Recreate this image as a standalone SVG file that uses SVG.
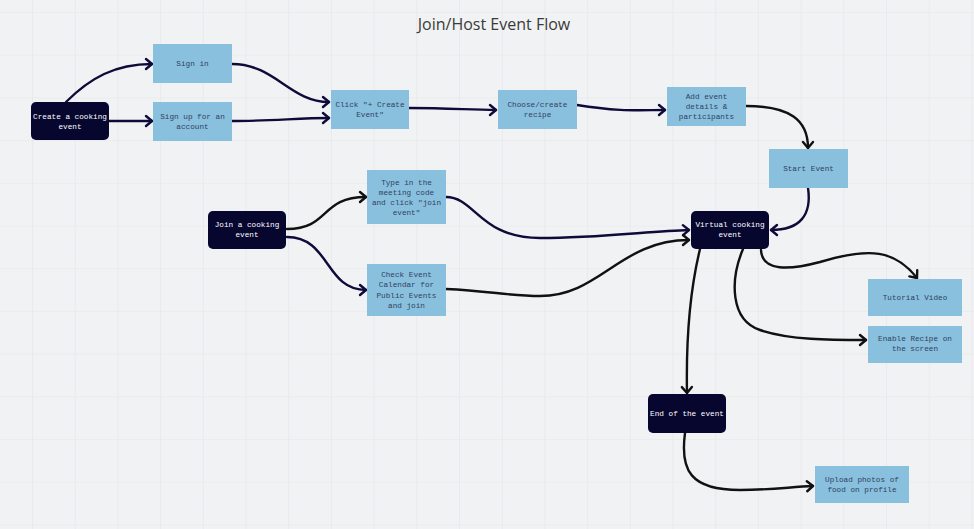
<svg xmlns="http://www.w3.org/2000/svg" width="974" height="529" viewBox="0 0 974 529">
<defs>
<pattern id="grid" x="32" y="12" width="42.7" height="42.7" patternUnits="userSpaceOnUse">
<path d="M0,0 V42.7 M0,0 H42.7" fill="none" stroke="#e3e5e8" stroke-width="1.2"/>
</pattern>
<marker id="an" markerUnits="userSpaceOnUse" markerWidth="12" markerHeight="14" refX="8" refY="6" orient="auto" viewBox="0 0 12 12">
<path d="M2,1 L8,6 L2,11" fill="none" stroke="#0e0b3a" stroke-width="2.4" stroke-linecap="round" stroke-linejoin="round"/>
</marker>
<marker id="ak" markerUnits="userSpaceOnUse" markerWidth="12" markerHeight="14" refX="8" refY="6" orient="auto" viewBox="0 0 12 12">
<path d="M2,1 L8,6 L2,11" fill="none" stroke="#111111" stroke-width="2.4" stroke-linecap="round" stroke-linejoin="round"/>
</marker>
</defs>
<style>
.dark{fill:#07062f;}
.light{fill:#88c0de;}
.tw{font-family:"Liberation Mono","DejaVu Sans Mono",monospace;font-size:7.7px;fill:#ffffff;text-anchor:middle;}
.tb{font-family:"Liberation Mono","DejaVu Sans Mono",monospace;font-size:7.7px;fill:#33415f;text-anchor:middle;}
.cn{fill:none;stroke:#0e0b3a;stroke-width:2.4;stroke-linecap:round;marker-end:url(#an);}
.ck{fill:none;stroke:#111111;stroke-width:2.4;stroke-linecap:round;marker-end:url(#ak);}
.title{font-family:"Open Sans","Noto Sans",sans-serif;font-size:16px;fill:#3a3a3a;text-anchor:middle;}
</style>
<rect width="974" height="529" fill="#f1f2f4"/>
<rect width="974" height="529" fill="url(#grid)"/>
<text class="title" x="494" y="30">Join/Host Event Flow</text>

<g id="connectors">
<path class="cn" d="M66,102 C90,78 115,64 152,64"/>
<path class="cn" d="M109,121 L152,121"/>
<path class="cn" d="M232,64 C275,64 290,102 329,102"/>
<path class="cn" d="M232,121 C270,121 300,118 329,118"/>
<path class="cn" d="M409,108 C450,108 470,110 496,110"/>
<path class="cn" d="M577,105 C620,112 640,110 665,110"/>
<path class="ck" d="M746,106 C790,106 808,120 808,148"/>
<path class="cn" d="M808,188 C812,215 800,230 771,230"/>
<path class="ck" d="M287,229 C330,229 320,197 366,197"/>
<path class="cn" d="M287,237 C330,237 325,290 366,290"/>
<path class="cn" d="M446,197 C475,197 480,238 540,238 C600,238 650,231 689,230"/>
<path class="ck" d="M446,289 C490,291 510,296 540,296 C600,296 620,240 689,240"/>
<path class="ck" d="M761,250 C762,272 790,270 820,262 C870,247 895,250 917,278"/>
<path class="ck" d="M743,249 C730,280 730,320 760,330 C790,340 830,340 866,340"/>
<path class="ck" d="M700,249 C690,290 686,340 687,393"/>
<path class="ck" d="M685,433 C680,470 690,490 740,490 C770,490 790,487 813,486"/>
</g>

<g id="create">
<rect class="dark" x="31" y="102" width="78" height="38" rx="5"/>
<text class="tw" x="70" y="118.7">Create a cooking</text>
<text class="tw" x="70" y="128.7">event</text>
</g>
<g id="signin">
<rect class="light" x="153" y="44" width="79" height="39"/>
<text class="tb" x="192.5" y="66.3">Sign in</text>
</g>
<g id="signup">
<rect class="light" x="153" y="102" width="79" height="39"/>
<text class="tb" x="192.5" y="118.8">Sign up for an</text>
<text class="tb" x="192.5" y="128.8">account</text>
</g>
<g id="click">
<rect class="light" x="331" y="90" width="78" height="39"/>
<text class="tb" x="370" y="107">Click "+ Create</text>
<text class="tb" x="370" y="117">Event"</text>
</g>
<g id="choose">
<rect class="light" x="498" y="90" width="79" height="39"/>
<text class="tb" x="537.5" y="107">Choose/create</text>
<text class="tb" x="537.5" y="117">recipe</text>
</g>
<g id="details">
<rect class="light" x="667" y="87" width="79" height="39"/>
<text class="tb" x="706.5" y="98.5">Add event</text>
<text class="tb" x="706.5" y="108.7">details &amp;</text>
<text class="tb" x="706.5" y="118.9">participants</text>
</g>
<g id="start">
<rect class="light" x="769" y="149" width="79" height="39"/>
<text class="tb" x="808.5" y="171">Start Event</text>
</g>
<g id="join">
<rect class="dark" x="208" y="211" width="78" height="38" rx="5"/>
<text class="tw" x="247" y="226.8">Join a cooking</text>
<text class="tw" x="247" y="236.8">event</text>
</g>
<g id="typein">
<rect class="light" x="367" y="170" width="79" height="54"/>
<text class="tb" x="406.5" y="184.5">Type in the</text>
<text class="tb" x="406.5" y="194.8">meeting code</text>
<text class="tb" x="406.5" y="205.1">and click "join</text>
<text class="tb" x="406.5" y="215.4">event"</text>
</g>
<g id="calendar">
<rect class="light" x="367" y="264" width="79" height="52"/>
<text class="tb" x="406.5" y="277">Check Event</text>
<text class="tb" x="406.5" y="287.3">Calendar for</text>
<text class="tb" x="406.5" y="297.6">Public Events</text>
<text class="tb" x="406.5" y="307.9">and join</text>
</g>
<g id="virtual">
<rect class="dark" x="691" y="211" width="78" height="38" rx="5"/>
<text class="tw" x="730" y="227">Virtual cooking</text>
<text class="tw" x="730" y="237">event</text>
</g>
<g id="tutorial">
<rect class="light" x="868" y="279" width="94" height="37"/>
<text class="tb" x="915" y="299.8">Tutorial Video</text>
</g>
<g id="recipe">
<rect class="light" x="868" y="326" width="94" height="37"/>
<text class="tb" x="915" y="341">Enable Recipe on</text>
<text class="tb" x="915" y="351.3">the screen</text>
</g>
<g id="end">
<rect class="dark" x="648" y="394" width="78" height="39" rx="5"/>
<text class="tw" x="687" y="416">End of the event</text>
</g>
<g id="upload">
<rect class="light" x="815" y="466" width="94" height="37"/>
<text class="tb" x="862" y="481.8">Upload photos of</text>
<text class="tb" x="862" y="492">food on profile</text>
</g>
</svg>
